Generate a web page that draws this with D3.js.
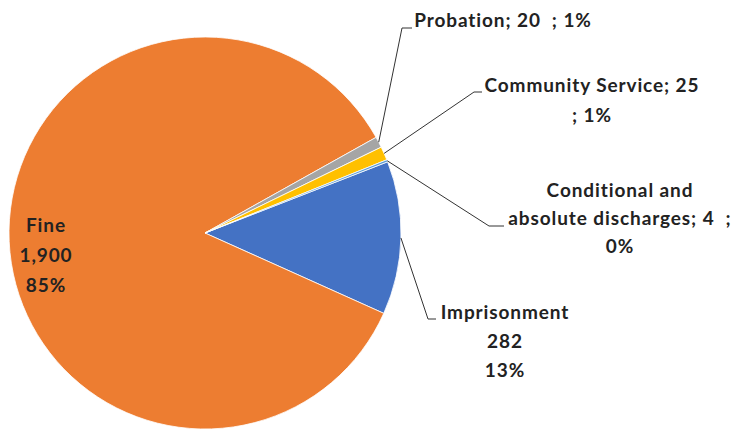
<!DOCTYPE html>
<html>
<head>
<meta charset="utf-8">
<script src="https://cdn.jsdelivr.net/npm/d3@7"></script>
<style>
  html, body { margin: 0; padding: 0; background: #fff; }
  svg { display: block; }
  text { font-family: Lato, "Open Sans", sans-serif; font-weight: 700; fill: #222; }
</style>
</head>
<body>
<svg id="chart" width="736" height="429"></svg>
<script>
// Sentences by type of penalty
const categories = ["Imprisonment", "Fine", "Probation", "Community Service", "Conditional and absolute discharges"];
const counts = [282, 1900, 20, 25, 4];
const percents = ["13%", "85%", "1%", "1%", "0%"];
const colors = ["#4472C4", "#ED7D31", "#A5A5A5", "#FFC000", "#5B9BD5"];

const W = 736, H = 429;
const cx = 205, cy = 233, R = 196;
const firstSliceAngle = 68.7 * Math.PI / 180;

const svg = d3.select("#chart");
const g = svg.append("g").attr("transform", `translate(${cx},${cy})`);

const slices = categories.map((c, i) => ({ name: c, value: counts[i], pct: percents[i], color: colors[i] }));

const pie = d3.pie().sort(null).value(d => d.value)
  .startAngle(firstSliceAngle).endAngle(firstSliceAngle + 2 * Math.PI);
const arcs = pie(slices);
const arc = d3.arc().innerRadius(0).outerRadius(R);
const edge = d3.arc().innerRadius(R).outerRadius(R);

g.selectAll("path.slice").data(arcs).join("path")
  .attr("class", "slice")
  .attr("d", arc)
  .attr("fill", d => d.data.color)
  .attr("stroke", "#fff")
  .attr("stroke-width", 0.8);

const fmt = d3.format(",");

// Label layout: line text, anchor position, and leader elbow (relative to svg)
const labelLayout = {
  "Fine": { lines: d => [d.name, fmt(d.value), d.pct], x: 46, y: 232, lh: 30, leader: null },
  "Imprisonment": { lines: d => [d.name, fmt(d.value), d.pct], x: 505, y: 319, lh: 29,
    leader: { elbow: [428, 319], end: [436, 319] } },
  "Probation": { lines: d => [`${d.name}; ${fmt(d.value)}\u00a0\u00a0; ${d.pct}`], x: 503, y: 27, lh: 28,
    leader: { elbow: [402, 28], end: [412, 28] } },
  "Community Service": { lines: d => [`${d.name}; ${fmt(d.value)}`, `; ${d.pct}`], x: 592, y: 92, lh: 30,
    leader: { elbow: [474, 92], end: [482, 92] } },
  "Conditional and absolute discharges": { lines: d => ["Conditional and", `absolute discharges; ${fmt(d.value)}\u00a0\u00a0;`, d.pct], x: 620, y: 197, lh: 28,
    leader: { elbow: [489, 226], end: [504, 226] } }
};

// Leader lines from slice edge to label
arcs.forEach(a => {
  const L = labelLayout[a.data.name];
  if (!L.leader) return;
  const [px, py] = edge.centroid(a);
  const pts = [[cx + px, cy + py], L.leader.elbow, L.leader.end];
  svg.append("path")
    .attr("d", d3.line()(pts))
    .attr("fill", "none")
    .attr("stroke", "#333")
    .attr("stroke-width", 1);
});

// Data labels
arcs.forEach(a => {
  const L = labelLayout[a.data.name];
  const t = svg.append("text")
    .attr("x", L.x).attr("y", L.y)
    .attr("text-anchor", "middle")
    .attr("font-size", 19)
    .attr("letter-spacing", 0.9);
  L.lines(a.data).forEach((s, i) => {
    t.append("tspan").attr("x", L.x).attr("dy", i === 0 ? 0 : L.lh).text(s);
  });
});
</script>
</body>
</html>
